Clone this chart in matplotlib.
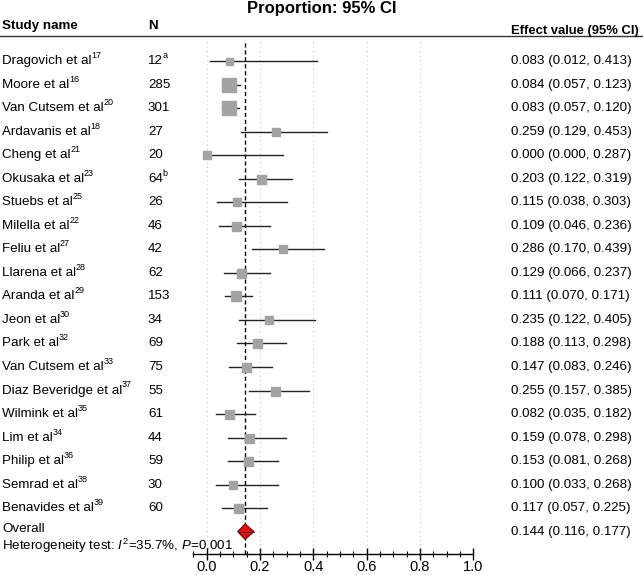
import matplotlib.pyplot as plt
from matplotlib.lines import Line2D
from matplotlib.patches import Polygon
from matplotlib.ticker import MultipleLocator
from matplotlib.transforms import blended_transform_factory, offset_copy

plt.rcParams["font.family"] = ["Liberation Sans", "DejaVu Sans"]
plt.rcParams["mathtext.fontset"] = "custom"
plt.rcParams["mathtext.rm"] = "Liberation Sans"
plt.rcParams["mathtext.it"] = "Liberation Sans:italic"

studies = [
    "Dragovich et al", "Moore et al", "Van Cutsem et al", "Ardavanis et al",
    "Cheng et al", "Okusaka et al", "Stuebs et al", "Milella et al",
    "Feliu et al", "Llarena et al", "Aranda et al", "Jeon et al",
    "Park et al", "Van Cutsem et al", "Diaz Beveridge et al", "Wilmink et al",
    "Lim et al", "Philip et al", "Semrad et al", "Benavides et al",
]
refs = ["17", "16", "20", "18", "21", "23", "25", "22", "27", "28",
        "29", "30", "32", "33", "37", "35", "34", "36", "38", "39"]
n_values = ["12", "285", "301", "27", "20", "64", "26", "46", "42", "62",
            "153", "34", "69", "75", "55", "61", "44", "59", "30", "60"]
n_notes = ["a", "", "", "", "", "b", "", "", "", "", "", "", "", "", "", "",
           "", "", "", ""]
effect = [0.083, 0.084, 0.083, 0.259, 0.000, 0.203, 0.115, 0.109, 0.286,
          0.129, 0.111, 0.235, 0.188, 0.147, 0.255, 0.082, 0.159, 0.153,
          0.100, 0.117]
lower = [0.012, 0.057, 0.057, 0.129, 0.000, 0.122, 0.038, 0.046, 0.170,
         0.066, 0.070, 0.122, 0.113, 0.083, 0.157, 0.035, 0.078, 0.081,
         0.033, 0.057]
upper = [0.413, 0.123, 0.120, 0.453, 0.287, 0.319, 0.303, 0.236, 0.439,
         0.237, 0.171, 0.405, 0.298, 0.246, 0.385, 0.182, 0.298, 0.268,
         0.268, 0.225]
box_px = [7, 14, 14, 8, 8, 9, 8, 9, 8, 9, 10, 8, 9, 9, 9, 9, 9, 9, 8, 9]
overall = (0.144, 0.116, 0.177)

W, H, DPI = 643, 575, 100
fig = plt.figure(figsize=(W / DPI, H / DPI), dpi=DPI)
renderer = fig.canvas.get_renderer()

# axes: x from -0.05 (px 193) to 1.0 (px 473); y from px 40 to px 554
x0, x1 = 193.4, 473.3
ax = fig.add_axes([x0 / W, (H - 554) / H, (x1 - x0) / W, (554 - 40) / H])
ax.set_xlim(-0.05, 1.0)
ax.set_ylim(20.95, -0.9)

for s in ["top", "left", "right"]:
    ax.spines[s].set_visible(False)
ax.spines["bottom"].set_linewidth(1.0)
ax.set_yticks([])
ax.xaxis.set_major_locator(MultipleLocator(0.2))
ax.xaxis.set_minor_locator(MultipleLocator(0.05))
ax.tick_params(axis="x", which="major", direction="inout", length=8,
               width=1.0, labelsize=10.5, pad=0)
ax.tick_params(axis="x", which="minor", direction="inout", length=5,
               width=0.8)
ax.set_xticks([0.0, 0.2, 0.4, 0.6, 0.8, 1.0])
ax.set_xticklabels(["0.0", "0.2", "0.4", "0.6", "0.8", "1.0"])

for gx in [0.0, 0.2, 0.4, 0.6, 0.8, 1.0]:
    ax.axvline(gx, color="#c8c8c8", lw=0.8, ls=(0, (1, 3)), zorder=0)
ax.axvline(overall[0], color="black", lw=1.0, ls=(0, (3, 2)), zorder=1)

for i in range(len(studies)):
    ax.plot([lower[i], upper[i]], [i, i], color="#222222", lw=1.0, zorder=2)
    ax.plot(effect[i], i, marker="s", ms=box_px[i] * 0.72,
            color="#a3a3a3", mec="#a3a3a3", zorder=3)

yo = 20
est, lo, hi = overall
ax.add_patch(Polygon([(lo, yo), (est, yo - 0.33), (hi, yo), (est, yo + 0.33)],
                     closed=True, facecolor="#e01010", edgecolor="#7a0000",
                     lw=0.8, zorder=4))
ax.plot([lo, hi], [yo, yo], color="#333333", lw=0.6, zorder=5)

tr = blended_transform_factory(fig.transFigure, ax.transData)
fs = 9.6
sup_fs = 6.5


def text_with_sup(x, y, main, sup):
    t = ax.text(x, y, main, transform=tr, fontsize=fs, va="center",
                ha="left")
    if sup:
        bb = t.get_window_extent(renderer)
        sx = (bb.x1 - 0.3) / W
        ax.text(sx, y, sup, fontsize=sup_fs, va="center", ha="left",
                transform=offset_copy(tr, fig=fig, y=4, units="points"))


for i in range(len(studies)):
    text_with_sup(2 / W, i, studies[i], refs[i])
    text_with_sup(148 / W, i, n_values[i], n_notes[i])
    ax.text(511.5 / W, i,
            f"{effect[i]:.3f} ({lower[i]:.3f}, {upper[i]:.3f})",
            transform=tr, fontsize=fs, va="center", ha="left")

ax.text(2 / W, 19.9, "Overall", transform=tr, fontsize=fs,
        va="center", ha="left")
ax.text(2 / W, 20.6, r"Heterogeneity test: $I^2$=35.7%, $P$=0.001",
        transform=tr, fontsize=fs, va="center", ha="left")
ax.text(511.5 / W, 20, f"{est:.3f} ({lo:.3f}, {hi:.3f})", transform=tr,
        fontsize=fs, va="center", ha="left")

# headers
fig.text(0.5, 1 - 8 / H, "Proportion: 95% CI", fontsize=12,
         fontweight="bold", ha="center", va="center")
fig.text(2 / W, 1 - 26 / H, "Study name", fontsize=9.6, fontweight="bold",
         ha="left", va="center")
fig.text(148 / W, 1 - 26 / H, "N", fontsize=9.6, fontweight="bold",
         ha="left", va="center")
fig.text(511 / W, 1 - 31 / H, "Effect value (95% CI)", fontsize=9.4,
         fontweight="bold", ha="left", va="center")
fig.add_artist(Line2D([0, 1], [1 - 36 / H, 1 - 36 / H], color="#333333",
                      lw=1.0, transform=fig.transFigure))

fig.savefig("out.png", dpi=DPI)
